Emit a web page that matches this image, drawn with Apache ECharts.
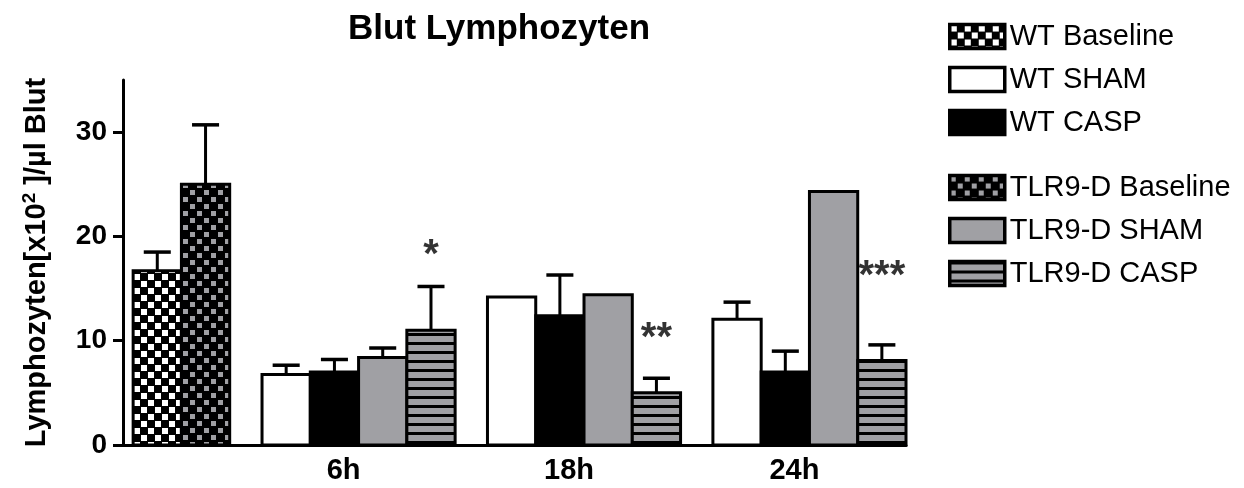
<!DOCTYPE html>
<html><head><meta charset="utf-8">
<script src="https://cdn.jsdelivr.net/npm/echarts@6/dist/echarts.min.js"></script>
<style>html,body{margin:0;padding:0;background:#fff}#c{width:1244px;height:488px}</style>
</head><body><div id="c"></div>
<script>
// ---------- data ----------
const groups = ['', '6h', '18h', '24h'];
const seriesNames = ['WT Baseline', 'WT SHAM', 'WT CASP', 'TLR9-D Baseline', 'TLR9-D SHAM', 'TLR9-D CASP'];
const wtBaseline     = [16.7, null, null, null];
const wtBaselineErr  = [1.8, null, null, null];
const wtSham         = [null, 6.75, 14.2, 12.05];
const wtShamErr      = [null, 0.9, null, 1.65];
const wtCasp         = [null, 7.0, 12.4, 7.0];
const wtCaspErr      = [null, 1.2, 3.9, 2.0];
const tlrBaseline    = [25.0, null, null, null];
const tlrBaselineErr = [5.7, null, null, null];
const tlrSham        = [null, 8.4, 14.4, 24.3];
const tlrShamErr     = [null, 0.9, null, null];
const tlrCasp        = [null, 11.0, 5.0, 8.1];
const tlrCaspErr     = [null, 4.2, 1.4, 1.5];
const stars          = ['', '*', '**', '***'];
const starValues     = [null, 19.1, 11.1, 17.1];
const yTicks         = [0, 10, 20, 30];

// ---------- layout ----------
const FONT = '"Liberation Sans", Arial, Helvetica, sans-serif';
const LEAD = 0.21, GAP = 0.67;
const values = [wtBaseline, wtSham, wtCasp, tlrBaseline, tlrSham, tlrCasp];
const errors = [wtBaselineErr, wtShamErr, wtCaspErr, tlrBaselineErr, tlrShamErr, tlrCaspErr];

const slots = values.map(() => groups.map(() => null));
const groupCount = groups.map(() => 0);
groups.forEach((g, gi) => {
  values.forEach((arr, si) => {
    if (arr[gi] != null) { slots[si][gi] = groupCount[gi]; groupCount[gi]++; }
  });
});
const groupStart = [];
let acc = LEAD;
groups.forEach((g, gi) => { groupStart.push(acc); acc += groupCount[gi] + GAP; });
const X_MAX = acc - GAP;
const groupCenter = groups.map((g, gi) => groupStart[gi] + groupCount[gi] / 2);

// ---------- patterns ----------
const GRAY = '#a0a0a4';
function makePattern(w, h, draw) {
  const c = document.createElement('canvas');
  c.width = w; c.height = h;
  draw(c.getContext('2d'));
  return { image: c, repeat: 'repeat' };
}
const checkWhite = makePattern(14, 14, ctx => {
  ctx.fillStyle = '#000'; ctx.fillRect(0, 0, 14, 14);
  ctx.fillStyle = '#fff'; ctx.fillRect(1, 1, 6, 6); ctx.fillRect(8, 8, 6, 6);
});
const checkGray = makePattern(14, 14, ctx => {
  ctx.fillStyle = '#000'; ctx.fillRect(0, 0, 14, 14);
  ctx.fillStyle = GRAY; ctx.fillRect(1, 1, 5, 5); ctx.fillRect(8, 8, 5, 5);
});
const stripes = makePattern(8, 9, ctx => {
  ctx.fillStyle = GRAY; ctx.fillRect(0, 0, 8, 9);
  ctx.fillStyle = '#000'; ctx.fillRect(0, 0, 8, 3);
});
const fills = [checkWhite, '#ffffff', '#000000', checkGray, GRAY, stripes];

function renderBar(si) {
  return function (params, api) {
    const v = api.value(1), e = api.value(2), x0 = api.value(3);
    const pTop = api.coord([x0, v]);
    const pBot = api.coord([x0 + 1, 0]);
    const children = [{
      type: 'rect',
      shape: { x: pTop[0], y: pTop[1], width: pBot[0] - pTop[0], height: pBot[1] - pTop[1] },
      style: { fill: fills[si], stroke: '#000', lineWidth: 3 }
    }];
    if (e != null && !isNaN(e)) {
      const a = api.coord([x0 + 0.5, v]);
      const b = api.coord([x0 + 0.5, v + e]);
      const cl = api.coord([x0 + 0.22, v + e]);
      const cr = api.coord([x0 + 0.78, v + e]);
      children.unshift({ type: 'line', shape: { x1: a[0], y1: a[1], x2: b[0], y2: b[1] }, style: { stroke: '#000', lineWidth: 3 } });
      children.push({ type: 'line', shape: { x1: cl[0], y1: cl[1], x2: cr[0], y2: cr[1] }, style: { stroke: '#000', lineWidth: 3.5 } });
    }
    return { type: 'group', children };
  };
}

const series = seriesNames.map((name, si) => ({
  type: 'custom',
  name,
  renderItem: renderBar(si),
  itemStyle: { color: fills[si], borderColor: '#000', borderWidth: 3 },
  encode: { x: 3, y: 1 },
  data: groups.map((g, gi) => values[si][gi] == null ? null :
    [gi, values[si][gi], errors[si][gi] == null ? NaN : errors[si][gi], groupStart[gi] + slots[si][gi]]).filter(d => d)
}));

// significance stars above TLR9-D CASP bars
const caspIdx = 5;
series.push({
  type: 'scatter',
  name: 'sig',
  symbolSize: 0,
  silent: true,
  data: groups.map((g, gi) => starValues[gi] == null ? null :
    { name: stars[gi], value: [groupStart[gi] + slots[caspIdx][gi] + 0.5, starValues[gi]] }).filter(d => d),
  label: { show: true, position: 'inside', formatter: '{b}', fontSize: 40, fontWeight: 'bold', fontFamily: FONT, color: '#000', offset: [0, 10] }
});

const legendCommon = {
  orient: 'vertical', left: 943, itemWidth: 55, itemHeight: 24, itemGap: 14,
  icon: 'rect', selectedMode: false,
  textStyle: { fontSize: 29, fontFamily: FONT, color: '#000' },
  itemStyle: { borderColor: '#000', borderWidth: 3.5 }
};

const chart = echarts.init(document.getElementById('c'), null, { renderer: 'canvas' });
chart.setOption({
  animation: false,
  backgroundColor: '#fff',
  title: { text: 'Blut Lymphozyten', left: 343, top: 7,
    textStyle: { fontSize: 35, fontWeight: 'bold', fontFamily: FONT, color: '#000' } },
  legend: [
    Object.assign({}, legendCommon, { top: 17, data: seriesNames.slice(0, 3) }),
    Object.assign({}, legendCommon, { top: 168, data: seriesNames.slice(3) })
  ],
  grid: { left: 123, right: 338, top: 80, bottom: 43 },
  xAxis: {
    type: 'value', min: 0, max: X_MAX,
    axisLine: { show: true, lineStyle: { color: '#000', width: 3 } },
    axisTick: { show: false },
    splitLine: { show: false },
    axisLabel: {
      customValues: groupCenter.slice(1),
      formatter: val => { let best = 0; groupCenter.forEach((c, i) => { if (Math.abs(c - val) < Math.abs(groupCenter[best] - val)) best = i; }); return groups[best]; },
      fontSize: 29, fontWeight: 'bold', fontFamily: FONT, color: '#000', margin: 11, padding: [0, 30, 0, 0]
    }
  },
  yAxis: {
    type: 'value', min: 0, max: 35, interval: 10,
    axisLine: { show: true, lineStyle: { color: '#000', width: 3 } },
    axisTick: { show: true, customValues: yTicks, length: 10, lineStyle: { color: '#000', width: 3 } },
    splitLine: { show: false },
    axisLabel: { customValues: yTicks, fontSize: 28, fontWeight: 'bold', fontFamily: FONT, color: '#000', margin: 16 },
    name: '{a|Lymphozyten[x10}{s|2}{a| ]/µl Blut}',
    nameLocation: 'middle', nameRotate: 90, nameGap: 70,
    nameTextStyle: {
      rich: {
        a: { fontSize: 29, fontWeight: 'bold', fontFamily: FONT, color: '#000' },
        s: { fontSize: 19, fontWeight: 'bold', fontFamily: FONT, color: '#000', padding: [0, 0, 14, 0] }
      }
    }
  },
  series
});
</script>
</body></html>
